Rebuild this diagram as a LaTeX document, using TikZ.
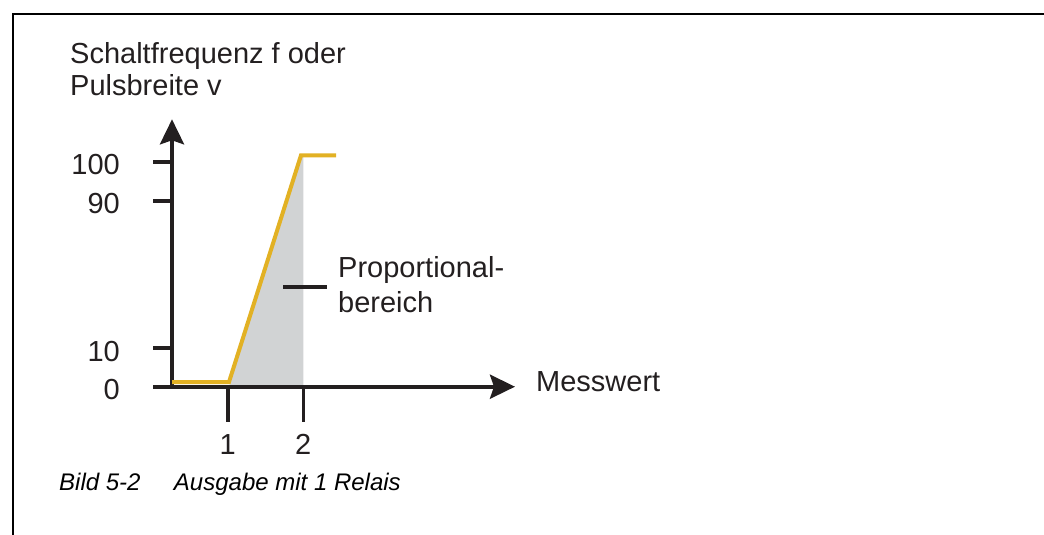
\documentclass[tikz,border=0pt]{standalone}
\usepackage{fontspec}
\setmainfont{Liberation Sans}
\usetikzlibrary{arrows.meta}
\usetikzlibrary{positioning}
\definecolor{inkgrey}{RGB}{35,31,32}
\definecolor{curvegold}{RGB}{226,177,36}
\definecolor{areagrey}{RGB}{209,211,212}
\tikzset{
	frame_line/.style = {
		line width=2pt,
		draw=black
	},
	axis_line/.style = {
		line width=3.8pt,
		draw=inkgrey,
		-{Stealth[length=25pt,width=24pt,inset=4pt]}
	},
	tick_line/.style = {
		line width=3.6pt,
		draw=inkgrey
	},
	leader_line/.style = {
		tick_line
	},
	curve_y/.style = {
		line width=4pt,
		draw=curvegold,
		line join=miter
	},
	area_p/.style = {
		fill=areagrey
	},
	lbl_text/.style = {
		inner sep=0pt,
		text=inkgrey,
		font=\fontsize{29}{32}\selectfont
	},
	lbl_num/.style = {
		lbl_text
	},
	lbl_capt/.style = {
		inner sep=0pt,
		text=black,
		font=\fontsize{24}{28}\selectfont\itshape
	},
}

\begin{document}
\begin{tikzpicture}[x=1pt, y=-1pt]
\useasboundingbox (0,0) rectangle (1044,535);
% frame
\draw[frame_line] (13,535) -- (13,14) -- (1044,14);

\coordinate (o) at (172,386.7);
\coordinate (xs) at (153,386.7);
\coordinate (xe) at (515,386.7);
\coordinate (ye) at (172,119.3);
\coordinate (k0) at (172,382);
\coordinate (k1) at (229,382);
\coordinate (k2) at (301,155.3);
\coordinate (k3) at (336,155.3);

% proportional range
\fill[area_p] (k1 |- o) -- (k2) -- (303.3,155.3) -- (303.3,386.7) -- cycle;

% axes
\draw[axis_line] (o) -- (ye);
\draw[axis_line] (xs) -- (xe);
\foreach \y/\v in {161.7/100, 200.7/90, 348/10, 386.7/0} {
	\draw[tick_line] (153,\y) -- (172,\y);
	\node[lbl_num, anchor=east] (yl\v) at (120,\y+3.3) {\v};
}
\foreach \x/\v in {227.7/1, 303.3/2} {
	\draw[tick_line] (\x,386.7) -- (\x,422) coordinate (xt\v);
	\node[lbl_num, below=12pt of xt\v] (xl\v) {\v};
}

% curve
\draw[curve_y] (k0) -- (k1) -- (k2) -- (k3);

\node[lbl_text, anchor=north west, align=left] (ytitle) at (70,42) {Schaltfrequenz f oder\\Pulsbreite v};
\node[lbl_text, anchor=base west] (mw) at (536,391.7) {Messwert};
\node[lbl_text, anchor=north west, align=left, font=\fontsize{29}{34.5}\selectfont] (prop) at (338,256.5) {Proportional-\\bereich};
\coordinate (pl) at (283,286.7);
\draw[leader_line] (pl) -- ([xshift=-11pt]prop.west |- pl);

% caption
\node[lbl_capt, anchor=base west] (bild) at (59,490) {Bild 5-2};
\node[lbl_capt, base right=33pt of bild] (ausg) {Ausgabe mit 1 Relais};
\end{tikzpicture}
\end{document}
